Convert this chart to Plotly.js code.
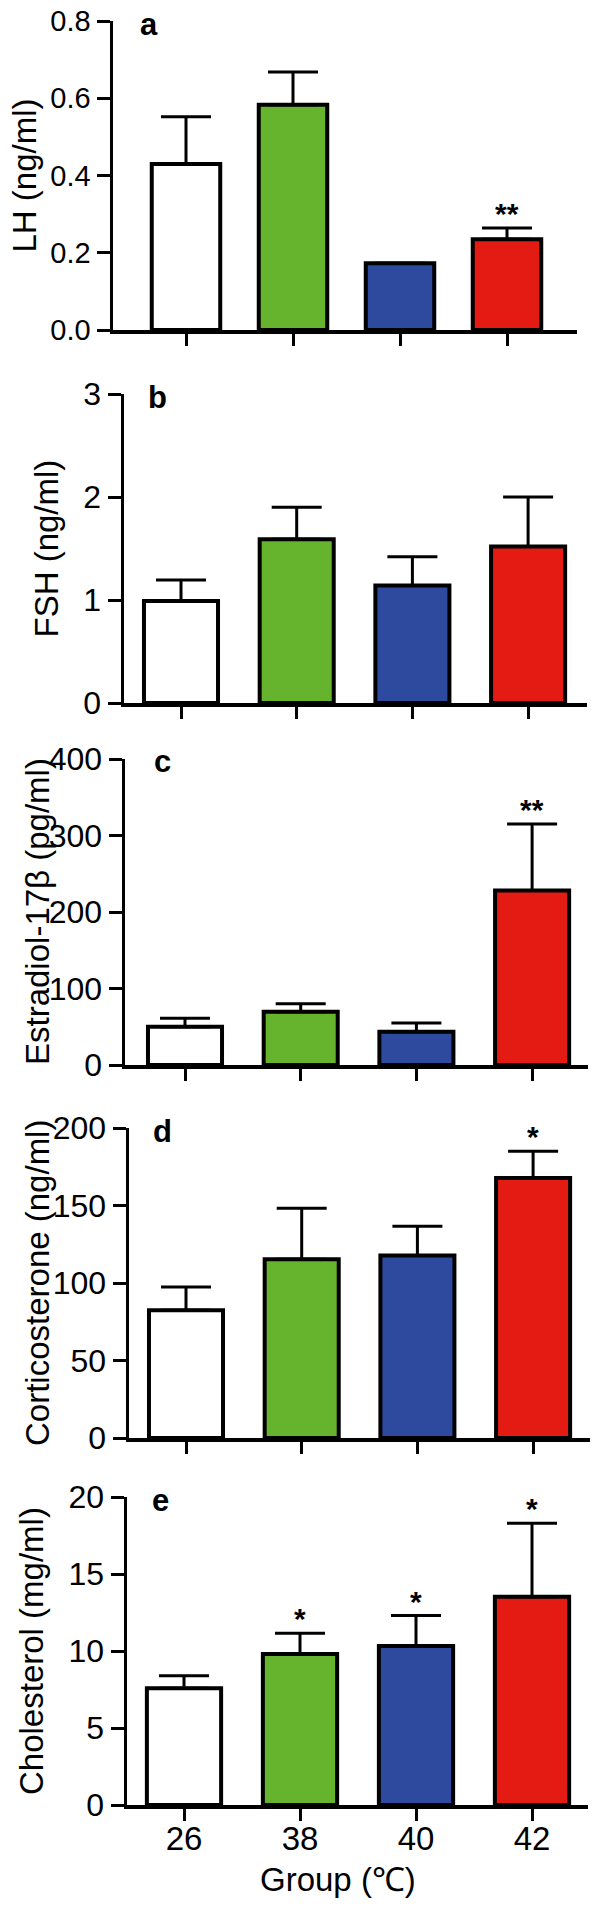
<!DOCTYPE html>
<html>
<head>
<meta charset="utf-8">
<script src="https://cdn.plot.ly/plotly-3.0.1.min.js"></script>
<style>html,body{margin:0;padding:0;background:#fff;}#chart{width:600px;height:1907px;}</style>
</head>
<body>
<div id="chart"></div>
<script>
// ---- data ----
var groups = ["26", "38", "40", "42"];
var barColors = ["#ffffff", "#66b32e", "#2d4a9e", "#e41b13"];

var lhMean = [0.43, 0.583, 0.173, 0.235];
var lhSem  = [0.122, 0.085, 0, 0.029];
var lhSig  = ["", "", "", "**"];

var fshMean = [0.99, 1.59, 1.14, 1.52];
var fshSem  = [0.205, 0.31, 0.28, 0.48];
var fshSig  = ["", "", "", ""];

var e2Mean = [50, 69.6, 43.5, 228];
var e2Sem  = [11, 10.5, 11.5, 87];
var e2Sig  = ["", "", "", "**"];

var cortMean = [82.4, 115.3, 117.8, 167.7];
var cortSem  = [15, 33, 18.8, 17.3];
var cortSig  = ["", "", "", "*"];

var cholMean = [7.58, 9.8, 10.32, 13.53];
var cholSem  = [0.82, 1.35, 1.98, 4.77];
var cholSig  = ["", "*", "*", "*"];

var yTitles = ["LH (ng/ml)", "FSH (ng/ml)", "Estradiol-17\u03b2 (pg/ml)", "Corticosterone (ng/ml)", "Cholesterol (mg/ml)"];
var panelLetters = ["a", "b", "c", "d", "e"];
var yMax = [0.8, 3, 400, 200, 20];
var yStep = [0.2, 1, 100, 50, 5];
var xTitle = "Group (\u2103)";

// ---- layout geometry (pixels) ----
var W = 600, H = 1907;
var FONT = "Liberation Sans, Arial, Helvetica, sans-serif";
var geo = [
  {xl: 113, xr: 577, t0: 186, s: 107,   ytop: 21,   y0: 330,  tx: 24, lx: 149, fs: 29},
  {xl: 124, xr: 587, t0: 181, s: 115.7, ytop: 394,  y0: 703,  tx: 46, lx: 157, fs: 32},
  {xl: 125, xr: 588, t0: 185, s: 115.7, ytop: 759,  y0: 1065, tx: 37, lx: 162, fs: 32},
  {xl: 129, xr: 590, t0: 186, s: 115.7, ytop: 1128, y0: 1438, tx: 37, lx: 162, fs: 32},
  {xl: 127, xr: 588, t0: 184, s: 116,   ytop: 1497, y0: 1805, tx: 31, lx: 160, fs: 32}
];

var means = [lhMean, fshMean, e2Mean, cortMean, cholMean];
var sems = [lhSem, fshSem, e2Sem, cortSem, cholSem];
var sigs = [lhSig, fshSig, e2Sig, cortSig, cholSig];

var data = [];
var layout = {
  width: W, height: H,
  margin: {l: 0, r: 0, t: 0, b: 0},
  paper_bgcolor: "#fff", plot_bgcolor: "rgba(0,0,0,0)",
  showlegend: false,
  font: {family: FONT, color: "#000", size: 32},
  annotations: []
};

for (var i = 0; i < 5; i++) {
  var g = geo[i];
  var sfx = i === 0 ? "" : String(i + 1);
  var xa = "x" + sfx, ya = "y" + sfx;
  data.push({
    type: "bar",
    x: groups,
    y: means[i],
    xaxis: xa, yaxis: ya,
    width: 0.64,
    marker: {color: barColors, line: {color: "#000", width: 4}},
    error_y: {type: "data", symmetric: false, array: sems[i],
              arrayminus: [0, 0, 0, 0], color: "#000", thickness: 3, width: 25},
    cliponaxis: false,
    hoverinfo: "none"
  });
  var xr0 = (g.xl - g.t0) / g.s, xr1 = (g.xr - g.t0) / g.s;
  layout["xaxis" + sfx] = {
    domain: [g.xl / W, g.xr / W],
    anchor: ya,
    type: "category",
    range: [xr0, xr1],
    showline: true, linecolor: "#000", linewidth: 3.5,
    ticks: "outside", ticklen: 12, tickwidth: 3, tickcolor: "#000",
    showticklabels: i === 4,
    ticklabelstandoff: -10,
    tickfont: {size: 33, family: FONT},
    showgrid: false, zeroline: false, fixedrange: true
  };
  layout["yaxis" + sfx] = {
    domain: [1 - g.y0 / H, 1 - g.ytop / H],
    anchor: xa,
    range: [0, yMax[i]],
    dtick: yStep[i], tick0: 0,
    tickformat: i === 0 ? ".1f" : "d",
    showline: true, linecolor: "#000", linewidth: 3.5,
    ticks: "outside", ticklen: 13, tickwidth: 3, tickcolor: "#000",
    tickfont: {size: g.fs, family: FONT},
    showgrid: false, zeroline: false, fixedrange: true
  };
  // y-axis title
  layout.annotations.push({
    text: yTitles[i], xref: "paper", yref: "paper",
    x: g.tx / W, y: 1 - ((g.ytop + g.y0) / 2) / H,
    xanchor: "center", yanchor: "middle", textangle: -90, showarrow: false,
    font: {size: 33, family: FONT}
  });
  // panel letter
  layout.annotations.push({
    text: "<b>" + panelLetters[i] + "</b>", xref: "paper", yref: "paper",
    x: g.lx / W, y: 1 - (g.ytop + 3) / H,
    xanchor: "center", yanchor: "middle", showarrow: false,
    font: {size: 31, family: FONT}
  });
  // significance marks (x given as category index)
  for (var k = 0; k < 4; k++) {
    if (sigs[i][k]) {
      layout.annotations.push({
        text: "<b>" + sigs[i][k] + "</b>", xref: xa, yref: ya,
        x: k, y: means[i][k] + sems[i][k],
        xanchor: "center", yanchor: "bottom", yshift: -4, showarrow: false,
        font: {size: 30, family: FONT}
      });
    }
  }
}
// x-axis title for bottom panel
layout.annotations.push({
  text: xTitle, xref: "paper", yref: "paper",
  x: 338 / W, y: 1 - 1879 / H,
  xanchor: "center", yanchor: "middle", showarrow: false,
  font: {size: 33, family: FONT}
});

Plotly.newPlot("chart", data, layout, {staticPlot: true, displayModeBar: false});
</script>
</body>
</html>
